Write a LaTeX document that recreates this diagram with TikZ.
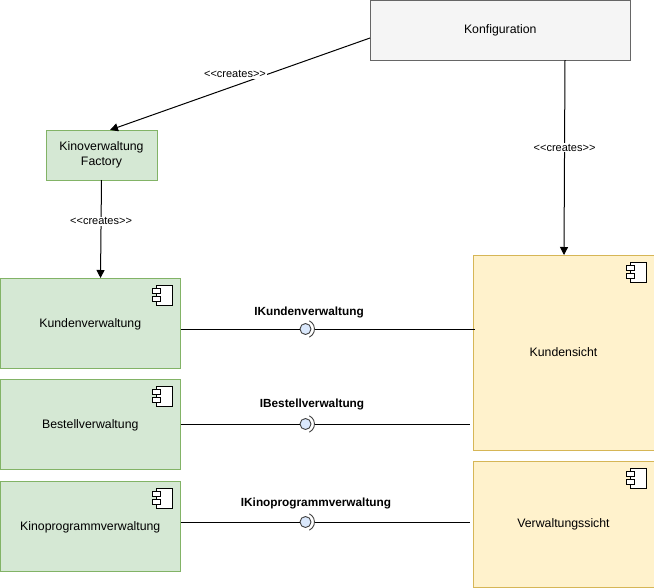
\documentclass[tikz,border=0pt]{standalone}
\usepackage{fontspec}
\setmainfont{Liberation Sans}
\usetikzlibrary{arrows.meta}

\definecolor{greenfill}{HTML}{D5E8D4}
\definecolor{greenline}{HTML}{82B366}
\definecolor{yellowfill}{HTML}{FFF2CC}
\definecolor{yellowline}{HTML}{D6B656}
\definecolor{greyfill}{HTML}{F5F5F5}
\definecolor{greyline}{HTML}{666666}
\definecolor{bluefill}{HTML}{DAE8FC}

\tikzset{
    box/.style={draw, rectangle, line width=0.9pt, inner sep=0pt, outer sep=0pt, align=center, font=\fontsize{12.3}{15}\selectfont},
    backend/.style={box, fill=greenfill, draw=greenline, minimum width=180.5pt, minimum height=90pt, text height=10.5pt, text depth=2.5pt},
    frontend/.style={box, fill=yellowfill, draw=yellowline, minimum width=181pt},
    creates/.style={fill=white, inner sep=1pt, font=\fontsize{11}{12}\selectfont},
    link/.style={draw=black, line width=1pt},
    arrowlink/.style={link, -{Triangle[length=8pt, width=8pt]}},
    lollipop/.style={circle, draw=black!75, fill=bluefill, line width=0.9pt, minimum size=11pt, inner sep=0pt},
    ifacelabel/.style={font=\fontsize{11.8}{14}\selectfont\bfseries},
    compicon/.pic={
        \draw[black, fill=white, line width=1pt] (-24,7) rectangle (-8,27);
        \draw[black, fill=white, line width=1pt] (-28,10.5) rectangle (-20,15.5);
        \draw[black, fill=white, line width=1pt] (-28,18.5) rectangle (-20,23.5);
    }
}

\begin{document}
\begin{tikzpicture}[x=1pt, y=-1pt]
    \useasboundingbox (0,0) rectangle (654,587);

    % top row
    \node[box, fill=greyfill, draw=greyline, minimum width=260.5pt, minimum height=60pt] (konfig) at (500.25,30) {Konfiguration};
    \node[box, fill=greenfill, draw=greenline, minimum width=111pt, minimum height=50pt] (factory) at (101.5,155) {Kinoverwaltung\\Factory};

    % components
    \node[backend] (kunden) at (90.25,323) {Kundenverwaltung};
    \node[backend] (bestell) at (90.25,424) {Bestellverwaltung};
    \node[backend] (kino) at (90.25,526) {Kinoprogrammverwaltung};
    \node[frontend, minimum height=195pt] (kundensicht) at (563.5,352.5) {Kundensicht};
    \node[frontend, minimum height=126pt] (verwaltung) at (563.5,524) {Verwaltungssicht};

    \foreach \comp in {kunden, bestell, kino, kundensicht, verwaltung} {
        \pic at (\comp.north east) {compicon};
    }

    % creates arrows
    \draw[arrowlink] ([yshift=-8pt]konfig.west) -- node[creates, pos=0.5, xshift=-5pt, yshift=10pt] {<{}<creates>{}>} ([xshift=8.5pt]factory.north);
    \draw[arrowlink] ([xshift=64.75pt]konfig.south) -- node[creates, pos=0.45] {<{}<creates>{}>} ([xshift=0.5pt]kundensicht.north);
    \draw[arrowlink] (factory.south) -- node[creates, pos=0.42] {<{}<creates>{}>} ([xshift=10.25pt]kunden.north);

    % provided interfaces
    \foreach \ifc/\from/\to/\px/\py/\gap/\txt/\lx/\ly in {
        ikunden/kunden/kundensicht/305.5/329/2/IKundenverwaltung/309/312,
        ibestell/bestell/kundensicht/305.5/424/-3/IBestellverwaltung/312/404,
        ikino/kino/verwaltung/305.5/522/-3/IKinoprogrammverwaltung/316/503} {
        \node[lollipop] (\ifc) at (\px,\py) {};
        \draw[link] (\from.east |- \ifc) -- (\ifc.west);
        \draw[link] ([xshift=9pt]\ifc.center) -- ([xshift=\gap pt]\to.west |- \ifc);
        \draw[black!75, line width=0.9pt] ([shift={(-65:9pt)}]\ifc.center) arc[start angle=-65, end angle=65, radius=9pt];
        \node[ifacelabel] (\ifc label) at (\lx,\ly) {\txt};
    }
\end{tikzpicture}
\end{document}
